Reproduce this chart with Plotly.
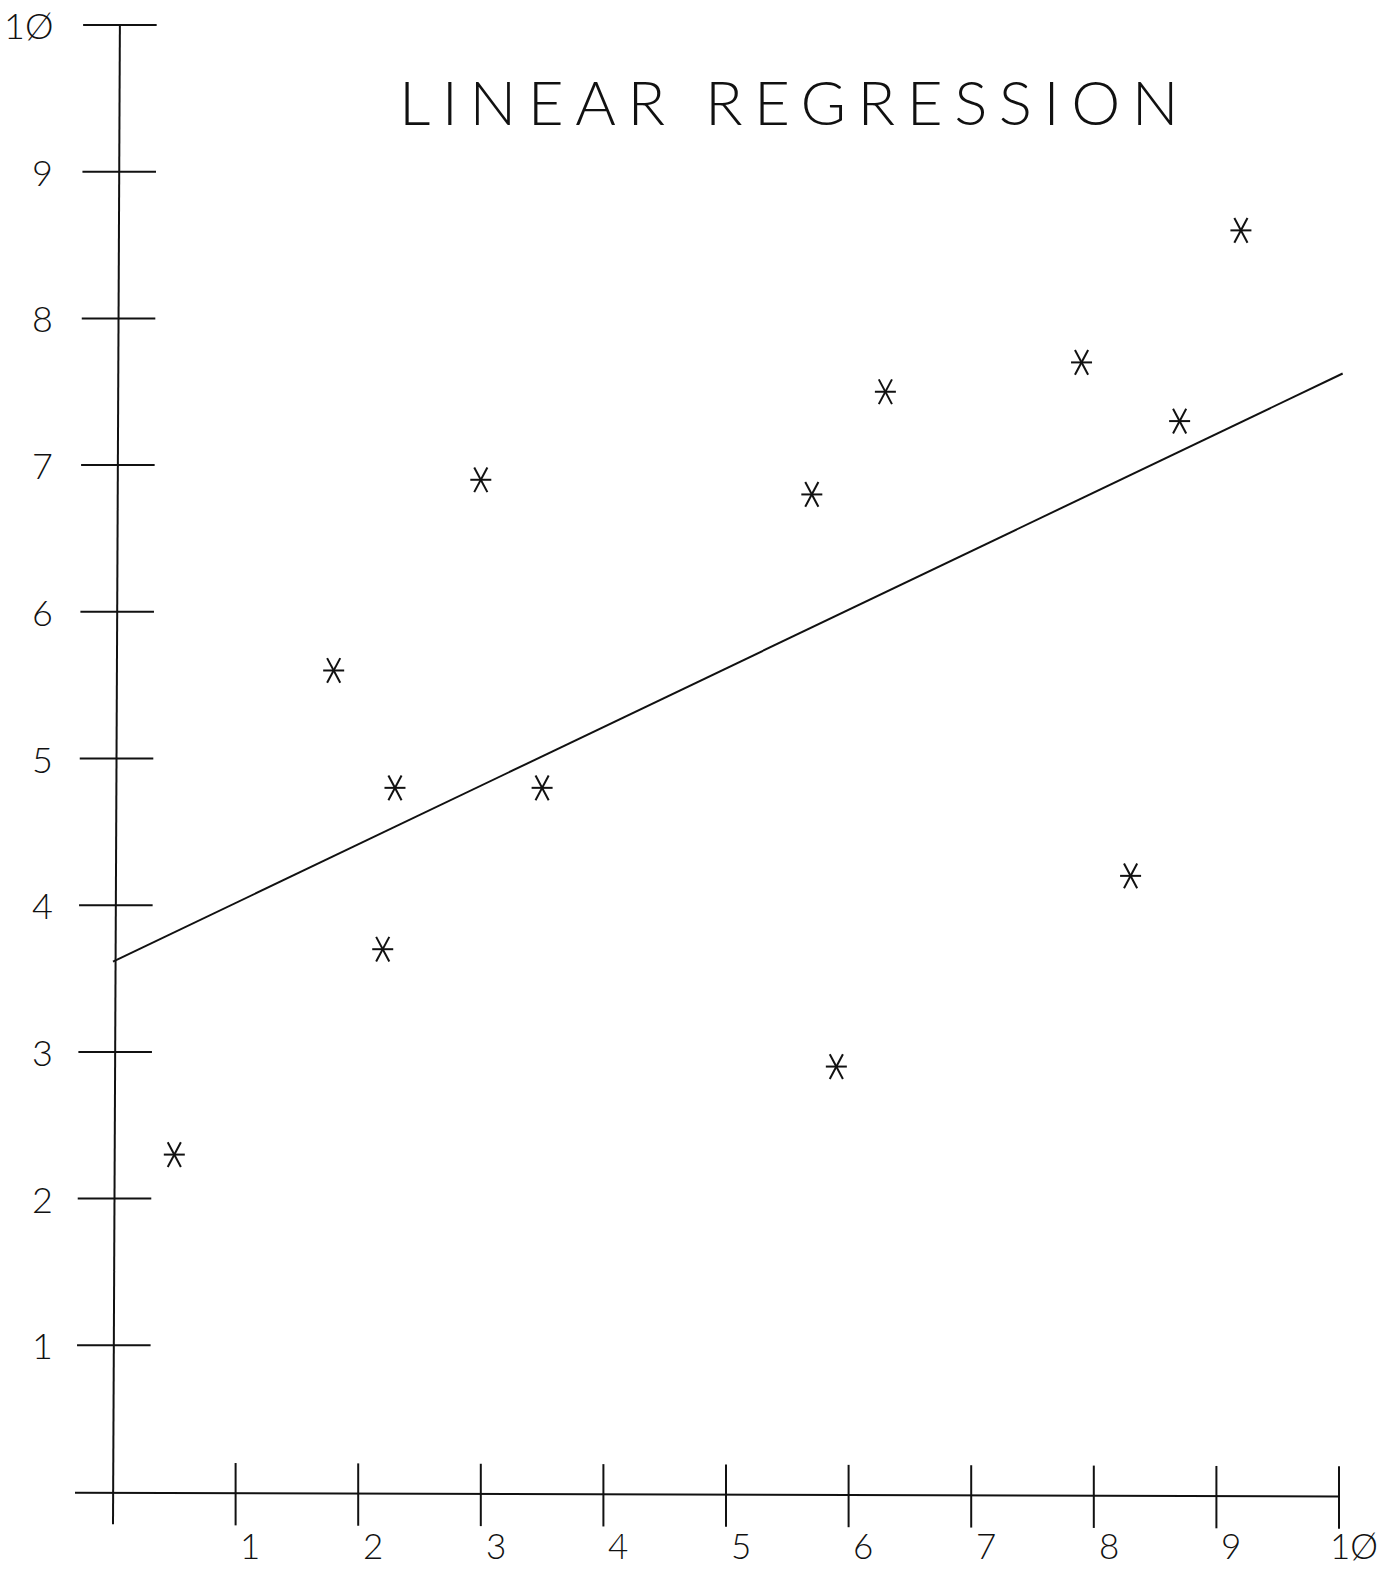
import numpy as np
import plotly.graph_objects as go

# Observations
x_obs = [0.5, 1.8, 2.3, 2.2, 3.0, 3.5, 5.7, 5.9, 6.3, 7.9, 8.3, 8.7, 9.2]
y_obs = [2.3, 5.6, 4.8, 3.7, 6.9, 4.8, 6.8, 2.9, 7.5, 7.7, 4.2, 7.3, 8.6]

# Axis ticks and their labels (plotter style slashed zero)
x_ticks = [1, 2, 3, 4, 5, 6, 7, 8, 9, 10]
y_ticks = [1, 2, 3, 4, 5, 6, 7, 8, 9, 10]
x_tick_labels = ["1", "2", "3", "4", "5", "6", "7", "8", "9", "1Ø"]
y_tick_labels = ["1", "2", "3", "4", "5", "6", "7", "8", "9", "1Ø"]

title_text = "LINEAR REGRESSION"

# Least-squares fit, drawn across the full x span
slope, intercept = np.polyfit(x_obs, y_obs, 1)
fit_x = [0.0, 10.03]
fit_y = [intercept + slope * v for v in fit_x]

FONT = "Lato"
INK = "#111111"
W, H = 1398, 1570

fig = go.Figure()

# Regression line
fig.add_trace(go.Scatter(x=fit_x, y=fit_y, mode="lines",
                         line=dict(color=INK, width=2), hoverinfo="skip"))

# Six-armed star markers: a horizontal bar plus two slanted bars
for sym, ang, sz in [("line-ew", 0, 15), ("line-ns", 28, 20), ("line-ns", -28, 20)]:
    fig.add_trace(go.Scatter(
        x=x_obs, y=y_obs, mode="markers",
        marker=dict(symbol=sym, angle=ang, size=sz,
                    line=dict(color=INK, width=2)),
    ))

# Slight slant of the plotted vertical axis
def axis_x(yv):
    return 0.0055 * (yv + 0.22)

shapes = []
line_style = dict(color=INK, width=2)
# Vertical axis
shapes.append(dict(type="line", xref="x", yref="y", x0=axis_x(-0.22), y0=-0.22,
                   x1=axis_x(10), y1=10, line=line_style))
# Horizontal axis
shapes.append(dict(type="line", xref="x", yref="y", x0=-0.31, y0=-0.005,
                   x1=10, y1=-0.03, line=line_style))
# Tick marks crossing the axes
for t in y_ticks:
    cx = axis_x(t)
    shapes.append(dict(type="line", xref="x", yref="y", x0=cx - 0.30, y0=t,
                       x1=cx + 0.30, y1=t, line=line_style))
for t in x_ticks:
    cy = -0.005 - 0.0025 * t
    shapes.append(dict(type="line", xref="x", yref="y", x0=t, y0=cy + 0.205,
                       x1=t, y1=cy - 0.22, line=line_style))

annotations = []
for t, lab in zip(x_ticks, x_tick_labels):
    annotations.append(dict(x=t + 0.12, y=-0.36, xref="x", yref="y", text=lab,
                            showarrow=False, xanchor="center", yanchor="middle",
                            font=dict(family=FONT, size=35, color=INK, weight=300)))
for t, lab in zip(y_ticks, y_tick_labels):
    annotations.append(dict(x=-0.47, y=t, xref="x", yref="y", text=lab,
                            showarrow=False, xanchor="right", yanchor="middle",
                            font=dict(family=FONT, size=36, color=INK, weight=300)))
annotations.append(dict(
    x=794 / W, y=1 - 101 / H, xref="paper", yref="paper",
    text=f'<span style="letter-spacing:11.5px">{title_text}</span>',
    showarrow=False, xanchor="center", yanchor="middle",
    font=dict(family=FONT, size=62, color=INK, weight=300)))

x_px = 122.6
y_px = 146.7
fig.update_layout(
    width=W, height=H,
    margin=dict(l=0, r=0, t=0, b=0),
    paper_bgcolor="white", plot_bgcolor="white",
    showlegend=False,
    xaxis=dict(range=[-113 / x_px, (W - 113) / x_px], visible=False, fixedrange=True),
    yaxis=dict(range=[-(H - 1492) / y_px, 10 + 25 / y_px], visible=False, fixedrange=True),
    shapes=shapes,
    annotations=annotations,
)

fig.write_html("out.html")
